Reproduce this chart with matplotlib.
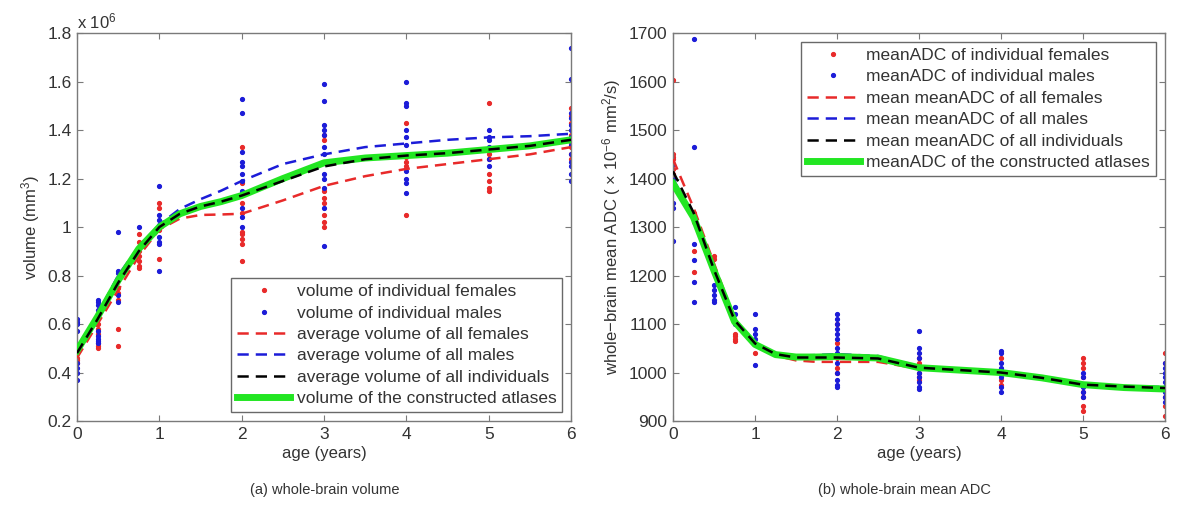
import numpy as np
import matplotlib
matplotlib.use("Agg")
import matplotlib.pyplot as plt

plt.rcParams['font.family'] = ['Liberation Sans', 'DejaVu Sans']
plt.rcParams['mathtext.fontset'] = 'custom'
plt.rcParams['mathtext.rm'] = 'Liberation Sans'
plt.rcParams['mathtext.it'] = 'Liberation Sans'

# ---- (a) whole-brain volume, in units of 1e6 mm^3 ----
vol_f_age = [0, 0, 0,
             0.25, 0.25, 0.25, 0.25, 0.25, 0.25,
             0.5, 0.5, 0.5, 0.5, 0.5, 0.5,
             0.75, 0.75, 0.75, 0.75, 0.75, 0.75, 0.75,
             1, 1, 1, 1, 1,
             2, 2, 2, 2, 2, 2, 2, 2, 2, 2,
             3, 3, 3, 3, 3, 3, 3, 3,
             4, 4, 4, 4, 4,
             5, 5, 5, 5, 5, 5, 5,
             6, 6, 6, 6, 6, 6, 6, 6]
vol_f = [0.46, 0.45, 0.44,
         0.60, 0.58, 0.56, 0.52, 0.51, 0.50,
         0.78, 0.75, 0.73, 0.70, 0.58, 0.51,
         0.97, 0.94, 0.90, 0.88, 0.86, 0.84, 0.83,
         1.10, 1.08, 1.00, 0.99, 0.87,
         1.33, 1.18, 1.14, 1.10, 1.06, 0.98, 0.97, 0.95, 0.93, 0.86,
         1.38, 1.36, 1.15, 1.12, 1.10, 1.05, 1.02, 1.00,
         1.43, 1.29, 1.27, 1.25, 1.05,
         1.51, 1.30, 1.28, 1.22, 1.19, 1.16, 1.15,
         1.49, 1.46, 1.43, 1.38, 1.35, 1.33, 1.30, 1.28]
vol_m_age = [0, 0, 0, 0, 0, 0, 0, 0,
             0.25, 0.25, 0.25, 0.25, 0.25, 0.25, 0.25, 0.25, 0.25,
             0.5, 0.5, 0.5, 0.5, 0.5,
             0.75,
             1, 1, 1, 1, 1, 1, 1, 1,
             2, 2, 2, 2, 2, 2, 2, 2, 2, 2, 2,
             3, 3, 3, 3, 3, 3, 3, 3, 3, 3, 3, 3, 3,
             4, 4, 4, 4, 4, 4, 4, 4, 4, 4,
             5, 5, 5, 5, 5, 5,
             6, 6, 6, 6, 6, 6, 6, 6, 6, 6, 6, 6, 6]
vol_m = [0.62, 0.61, 0.60, 0.57, 0.44, 0.42, 0.40, 0.37,
         0.70, 0.69, 0.68, 0.66, 0.57, 0.55, 0.54, 0.53, 0.52,
         0.98, 0.82, 0.81, 0.72, 0.69,
         1.00,
         1.17, 1.05, 1.03, 1.01, 0.96, 0.94, 0.93, 0.82,
         1.53, 1.47, 1.31, 1.27, 1.25, 1.22, 1.19, 1.15, 1.08, 1.04, 1.00,
         1.59, 1.52, 1.42, 1.40, 1.38, 1.33, 1.30, 1.27, 1.22, 1.20, 1.16, 1.08, 0.92,
         1.60, 1.51, 1.50, 1.40, 1.37, 1.34, 1.23, 1.20, 1.18, 1.14,
         1.40, 1.37, 1.36, 1.33, 1.28, 1.25,
         1.74, 1.61, 1.47, 1.45, 1.42, 1.40, 1.37, 1.34, 1.30, 1.27, 1.25, 1.22, 1.19]

curve_age = [0, 0.25, 0.5, 0.75, 1, 1.25, 1.5, 1.75, 2, 2.5, 3, 3.5, 4, 4.5, 5, 5.5, 6]
vol_f_mean = [0.46, 0.60, 0.74, 0.88, 0.99, 1.035, 1.05, 1.052, 1.055, 1.11, 1.17, 1.21, 1.24, 1.26, 1.28, 1.30, 1.33]
vol_m_mean = [0.49, 0.64, 0.80, 0.92, 1.01, 1.075, 1.115, 1.15, 1.19, 1.26, 1.30, 1.33, 1.345, 1.36, 1.37, 1.375, 1.385]
vol_all_mean = [0.48, 0.62, 0.77, 0.90, 1.00, 1.055, 1.085, 1.105, 1.13, 1.19, 1.25, 1.28, 1.295, 1.305, 1.32, 1.335, 1.36]
vol_atlas = [0.49, 0.63, 0.78, 0.91, 1.00, 1.055, 1.085, 1.105, 1.13, 1.20, 1.265, 1.285, 1.295, 1.305, 1.32, 1.335, 1.36]

# ---- (b) whole-brain mean ADC, in units of 1e-6 mm^2/s ----
adc_f_age = [0, 0, 0, 0, 0, 0,
             0.25, 0.25, 0.25, 0.25,
             0.5, 0.5,
             0.75, 0.75, 0.75, 0.75,
             1, 1,
             2, 2, 2, 2, 2,
             3, 3, 3, 3, 3,
             4, 4, 4,
             5, 5, 5, 5, 5, 5, 5, 5,
             6, 6, 6, 6, 6]
adc_f = [1604, 1450, 1445, 1440, 1420, 1410,
         1330, 1310, 1251, 1208,
         1240, 1235,
         1080, 1075, 1070, 1065,
         1060, 1040,
         1100, 1060, 1030, 1010, 1000,
         1030, 1020, 1000, 990, 985,
         1030, 985, 975,
         1030, 1020, 1010, 990, 960, 950, 930, 920,
         1040, 1020, 950, 930, 910]
adc_m_age = [0, 0, 0, 0, 0,
             0.25, 0.25, 0.25, 0.25, 0.25, 0.25,
             0.5, 0.5, 0.5, 0.5, 0.5,
             0.75, 0.75, 0.75,
             1, 1, 1, 1, 1,
             2, 2, 2, 2, 2, 2, 2, 2, 2, 2, 2, 2, 2,
             3, 3, 3, 3, 3, 3, 3, 3, 3, 3,
             4, 4, 4, 4, 4, 4, 4, 4,
             5, 5, 5, 5, 5,
             6, 6, 6, 6, 6, 6, 6, 6, 6]
adc_m = [1430, 1400, 1350, 1340, 1271,
         1688, 1465, 1265, 1232, 1187, 1146,
         1180, 1170, 1160, 1150, 1145,
         1135, 1120, 1100,
         1120, 1090, 1080, 1070, 1015,
         1120, 1110, 1100, 1090, 1080, 1070, 1050, 1040, 1020, 1000, 985, 975, 970,
         1085, 1050, 1040, 1030, 1010, 1000, 990, 980, 970, 965,
         1045, 1040, 1020, 1010, 1000, 990, 970, 960,
         1000, 990, 970, 960, 950,
         1020, 1010, 1000, 990, 980, 970, 960, 950, 940]

adc_f_mean = [1440, 1340, 1225, 1110, 1060, 1035, 1025, 1022, 1022, 1022, 1008, 1004, 999, 988, 974, 970, 967]
adc_m_mean = [1400, 1320, 1205, 1105, 1058, 1040, 1035, 1036, 1038, 1034, 1012, 1006, 1002, 990, 976, 972, 970]
adc_all_mean = [1415, 1330, 1212, 1108, 1060, 1038, 1031, 1031, 1031, 1029, 1010, 1005, 1000, 989, 975, 971, 968]
adc_atlas = [1390, 1320, 1210, 1105, 1058, 1037, 1032, 1032, 1033, 1030, 1010, 1005, 1000, 989, 975, 969, 966]

RED = '#e82a2a'
BLUE = '#1c1cd8'
GREEN = '#22e622'
TXT = '#333333'
SPINE = '#7a7a7a'


def style_axes(ax):
    for s in ax.spines.values():
        s.set_color(SPINE)
        s.set_linewidth(1.0)
    ax.tick_params(direction='in', top=True, right=True, length=4,
                   color=SPINE, labelcolor=TXT, labelsize=12.5, pad=4)
    ax.set_xlim(0, 6)
    ax.set_xticks(range(7))


def draw_panel(ax, f_age, f_val, m_age, m_val, f_mean, m_mean, all_mean, atlas, labels):
    ax.plot(f_age, f_val, '.', color=RED, ms=5.5, label=labels[0], zorder=2)
    ax.plot(m_age, m_val, '.', color=BLUE, ms=5.5, label=labels[1], zorder=2)
    ax.plot(curve_age, f_mean, '--', color=RED, lw=1.8, dashes=(4.5, 2.8), label=labels[2], zorder=3)
    ax.plot(curve_age, m_mean, '--', color=BLUE, lw=1.8, dashes=(4.5, 2.8), label=labels[3], zorder=3)
    ax.plot(curve_age, all_mean, '--', color='black', lw=1.8, dashes=(4.5, 2.8), label=labels[4], zorder=5)
    ax.plot(curve_age, atlas, '-', color=GREEN, lw=5, label=labels[5], zorder=4)
    return ax.get_legend_handles_labels()


def add_legend(ax, h, l, loc):
    leg = ax.legend(h, l, loc=loc, fontsize=12.5, frameon=True, fancybox=False,
                    edgecolor='#444444', handlelength=3.0, handletextpad=0.4,
                    labelspacing=0.36, borderpad=0.35, borderaxespad=0.5)
    leg.get_frame().set_linewidth(1.0)
    for t in leg.get_texts():
        t.set_color(TXT)
    return leg


fig = plt.figure(figsize=(11.82, 5.07), dpi=100)
ax1 = fig.add_axes([0.0651, 0.1696, 0.418, 0.765])
ax2 = fig.add_axes([0.5694, 0.1696, 0.4162, 0.765])

# left panel
h, l = draw_panel(ax1, vol_f_age, vol_f, vol_m_age, vol_m,
                  vol_f_mean, vol_m_mean, vol_all_mean, vol_atlas,
                  ['volume of individual females', 'volume of individual males',
                   'average volume of all females', 'average volume of all males',
                   'average volume of all individuals', 'volume of the constructed atlases'])
style_axes(ax1)
ax1.set_ylim(0.2, 1.8)
ax1.set_yticks(np.arange(0.2, 1.81, 0.2))
ax1.set_yticklabels(['0.2', '0.4', '0.6', '0.8', '1', '1.2', '1.4', '1.6', '1.8'])
ax1.set_ylabel('volume (mm$^3$)', color=TXT, fontsize=12, labelpad=4)
ax1.set_xlabel('age (years)', color=TXT, fontsize=12, labelpad=3)
ax1.text(0.0, 1.005, 'x 10$^6$', transform=ax1.transAxes, color=TXT,
         fontsize=12, ha='left', va='bottom')
add_legend(ax1, h, l, 'lower right')

# right panel
h, l = draw_panel(ax2, adc_f_age, adc_f, adc_m_age, adc_m,
                  adc_f_mean, adc_m_mean, adc_all_mean, adc_atlas,
                  ['meanADC of individual females', 'meanADC of individual males',
                   'mean meanADC of all females', 'mean meanADC of all males',
                   'mean meanADC of all individuals', 'meanADC of the constructed atlases'])
style_axes(ax2)
ax2.set_ylim(900, 1700)
ax2.set_yticks(range(900, 1701, 100))
ax2.set_ylabel('whole\u2212brain mean ADC ( \u00d7 10$^{-6}$ mm$^2$/s)', color=TXT,
               fontsize=12, labelpad=4)
ax2.set_xlabel('age (years)', color=TXT, fontsize=12, labelpad=3)
add_legend(ax2, h, l, 'upper right')

fig.text(0.275, 0.033, '(a) whole-brain volume', ha='center', va='center', fontsize=10.5, color=TXT)
fig.text(0.765, 0.033, '(b) whole-brain mean ADC', ha='center', va='center', fontsize=10.5, color=TXT)

fig.savefig('out.png', dpi=100)
